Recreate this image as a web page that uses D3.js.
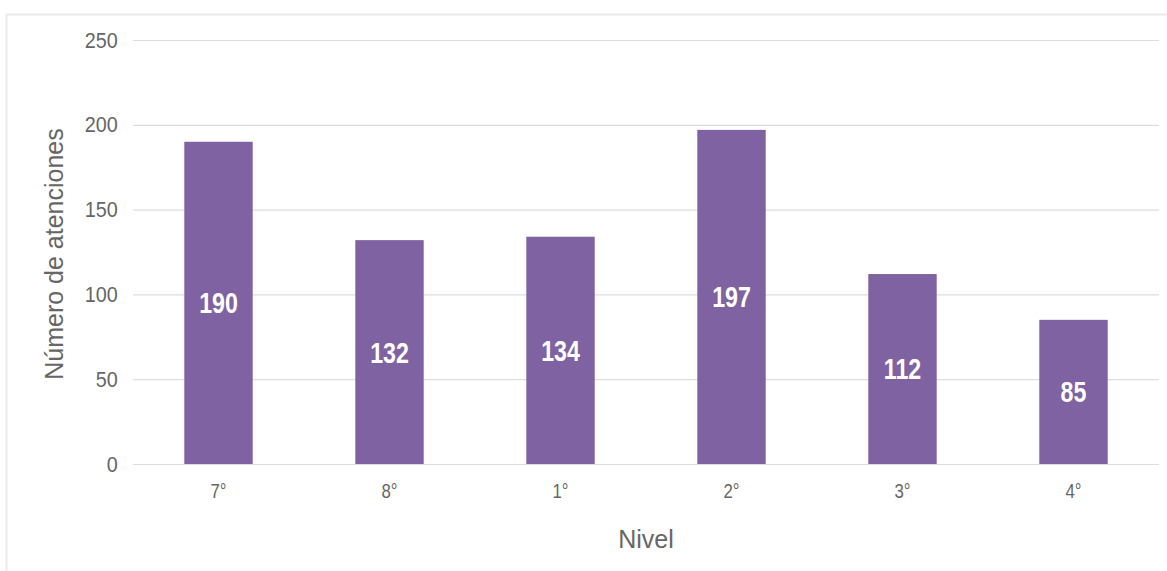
<!DOCTYPE html>
<html>
<head>
<meta charset="utf-8">
<script src="https://cdn.jsdelivr.net/npm/d3@7"></script>
<style>
  body { margin: 0; background: #fff; }
  svg { display: block; }
</style>
</head>
<body>
<div id="chart"></div>
<script>
// data
var niveles = ["7°", "8°", "1°", "2°", "3°", "4°"];
var atenciones = [190, 132, 134, 197, 112, 85];
var yTicks = [0, 50, 100, 150, 200, 250];

var width = 1167;
var height = 571;
var margin = { top: 40, right: 8, bottom: 107, left: 133 };

var innerW = width - margin.left - margin.right;
var innerH = height - margin.top - margin.bottom;

var data = niveles.map(function(n, i) {
    return { nivel: n, value: atenciones[i] };
});

var svg = d3.select("#chart")
    .append("svg")
    .attr("width", width)
    .attr("height", height);

// light frame round the chart
svg.append("path")
    .attr("d", "M6.5," + height + "V14.5H" + width)
    .attr("fill", "none")
    .attr("stroke", "#ebebeb")
    .attr("stroke-width", 2);

var g = svg.append("g")
    .attr("transform", "translate(" + margin.left + "," + margin.top + ")");

// scales
var xScale = d3.scaleBand()
    .domain(niveles)
    .range([0, innerW])
    .paddingInner(0.6)
    .paddingOuter(0.3);

var yScale = d3.scaleLinear()
    .domain([0, 250])
    .range([innerH, 0]);

// gridlines
g.append("g")
    .attr("class", "grid")
    .call(d3.axisLeft(yScale).tickValues(yTicks).tickSize(-innerW).tickFormat(""))
    .call(function(s) {
        s.select(".domain").remove();
        s.selectAll("line").attr("stroke", "#dedede").attr("stroke-width", 1.2);
    });

// y axis labels
g.append("g")
    .attr("class", "y axis")
    .call(d3.axisLeft(yScale).tickValues(yTicks).tickSize(0).tickPadding(17))
    .call(function(s) {
        s.select(".domain").remove();
        s.selectAll("text")
            .attr("fill", "#666")
            .attr("transform", "scale(0.9,1)")
            .style("font", "22px 'Liberation Sans', Arial, sans-serif");
    });

// bars
g.selectAll(".bar")
    .data(data)
    .enter()
    .append("rect")
    .attr("class", "bar")
    .attr("x", function(d) { return xScale(d.nivel); })
    .attr("y", function(d) { return yScale(d.value); })
    .attr("width", xScale.bandwidth())
    .attr("height", function(d) { return innerH - yScale(d.value); })
    .attr("fill", "#7f62a1");

// value labels in the middle of each bar (condensed look)
g.selectAll(".label")
    .data(data)
    .enter()
    .append("text")
    .attr("class", "label")
    .attr("transform", function(d) {
        var x = xScale(d.nivel) + xScale.bandwidth() / 2;
        var y = (yScale(d.value) + innerH) / 2;
        return "translate(" + x + "," + y + ") scale(0.8,1)";
    })
    .attr("dy", "0.36em")
    .attr("text-anchor", "middle")
    .attr("fill", "#fff")
    .style("font", "bold 29px 'Liberation Sans', Arial, sans-serif")
    .text(function(d) { return d.value; });

// x axis
g.append("g")
    .attr("class", "x axis")
    .attr("transform", "translate(0," + innerH + ")")
    .call(d3.axisBottom(xScale).tickSize(0).tickPadding(19))
    .call(function(s) {
        s.select(".domain").remove();
        s.selectAll("text")
            .attr("fill", "#666")
            .attr("transform", "scale(0.8,1)")
            .style("font", "21px 'Liberation Sans', Arial, sans-serif");
    });

// axis titles
svg.append("text")
    .attr("transform", "translate(63," + (margin.top + innerH / 2 + 2) + ") rotate(-90)")
    .attr("text-anchor", "middle")
    .attr("fill", "#666")
    .style("font", "25px 'Liberation Sans', Arial, sans-serif")
    .text("Número de atenciones");

svg.append("text")
    .attr("x", margin.left + innerW / 2)
    .attr("y", 548)
    .attr("text-anchor", "middle")
    .attr("fill", "#666")
    .style("font", "25px 'Liberation Sans', Arial, sans-serif")
    .text("Nivel");
</script>
</body>
</html>
